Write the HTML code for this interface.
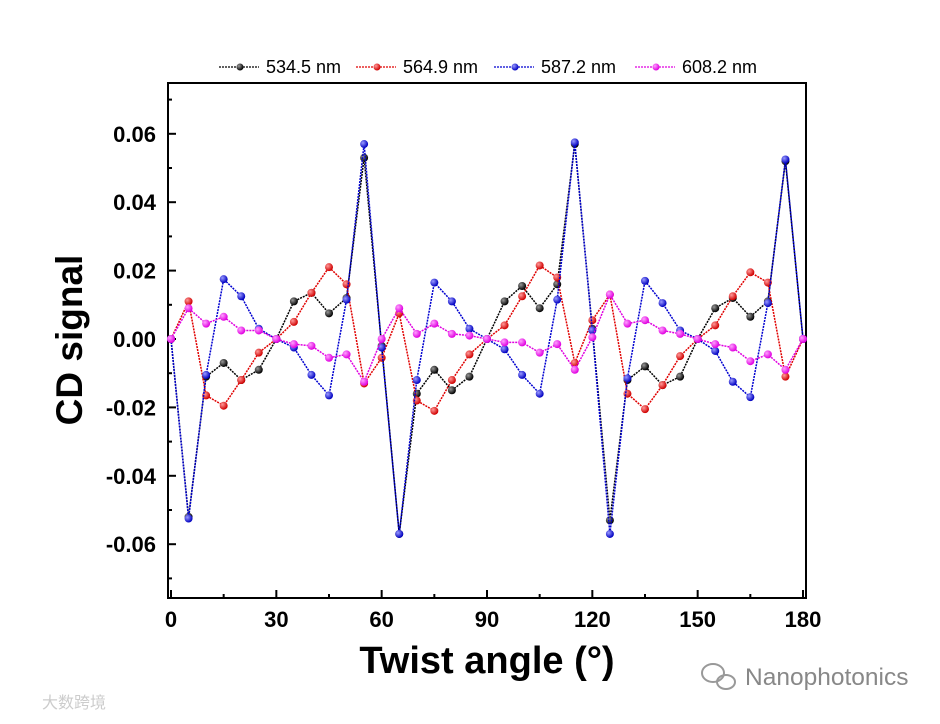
<!DOCTYPE html>
<html><head><meta charset="utf-8"><style>
body{margin:0;background:#fff;width:940px;height:719px;overflow:hidden;font-family:"Liberation Sans","Noto Sans CJK SC",sans-serif}
</style></head><body>
<svg id="chart" width="940" height="719" xmlns="http://www.w3.org/2000/svg" font-family="Liberation Sans, sans-serif">
<defs>
<radialGradient id="g0" cx="35%" cy="35%" r="65%"><stop offset="0" stop-color="#999"/><stop offset="1" stop-color="#000"/></radialGradient>
<radialGradient id="g1" cx="35%" cy="35%" r="65%"><stop offset="0" stop-color="#ff9a9a"/><stop offset="1" stop-color="#d00000"/></radialGradient>
<radialGradient id="g2" cx="35%" cy="35%" r="65%"><stop offset="0" stop-color="#9a9aff"/><stop offset="1" stop-color="#0000c0"/></radialGradient>
<radialGradient id="g3" cx="35%" cy="35%" r="65%"><stop offset="0" stop-color="#ffa0ff"/><stop offset="1" stop-color="#e000e0"/></radialGradient>
</defs>
<g id="axes"></g>
<g id="series"></g>
<g id="legend"></g>
<text transform="translate(82,340) rotate(-90)" text-anchor="middle" font-size="37" font-weight="bold">CD signal</text>
<text x="487" y="673" text-anchor="middle" font-size="38" font-weight="bold">Twist angle (°)</text>
<g fill="none" stroke="#999" stroke-width="2">
<ellipse cx="713" cy="673" rx="11" ry="9"/><ellipse cx="726" cy="682" rx="9" ry="7"/>
</g>
<text x="745" y="685" font-size="24.5" fill="#888">Nanophotonics</text>
<text x="42" y="708" font-size="16" fill="#ccc" font-family="Liberation Sans, Noto Sans CJK SC, sans-serif">大数跨境</text>
</svg>
<script>
const angles=[0,5,10,15,20,25,30,35,40,45,50,55,60,65,70,75,80,85,90,95,100,105,110,115,120,125,130,135,140,145,150,155,160,165,170,175,180];
const s534=[0,-0.052,-0.011,-0.007,-0.012,-0.009,0,0.011,0.0135,0.0075,0.012,0.053,-0.002,-0.057,-0.016,-0.009,-0.015,-0.011,0,0.011,0.0155,0.009,0.016,0.057,0.003,-0.053,-0.012,-0.008,-0.0135,-0.011,0,0.009,0.012,0.0065,0.011,0.052,0];
const s564=[0,0.011,-0.0165,-0.0195,-0.012,-0.004,0,0.005,0.0135,0.021,0.016,-0.013,-0.0055,0.0075,-0.018,-0.021,-0.012,-0.0045,0,0.004,0.0125,0.0215,0.018,-0.007,0.0055,0.013,-0.016,-0.0205,-0.0135,-0.005,0,0.004,0.0125,0.0195,0.0165,-0.011,0];
const s587=[0,-0.0525,-0.0105,0.0175,0.0125,0.003,0,-0.0025,-0.0105,-0.0165,0.0115,0.057,-0.0025,-0.057,-0.012,0.0165,0.011,0.003,0,-0.003,-0.0105,-0.016,0.0115,0.0575,0.0025,-0.057,-0.0115,0.017,0.0105,0.0025,0,-0.0035,-0.0125,-0.017,0.0105,0.0525,0];
const s608=[0,0.009,0.0045,0.0065,0.0025,0.0025,0,-0.0015,-0.002,-0.0055,-0.0045,-0.0125,0,0.009,0.0015,0.0045,0.0015,0.001,0,-0.001,-0.001,-0.004,-0.0015,-0.009,0.0005,0.013,0.0045,0.0055,0.0025,0.0015,0,-0.0015,-0.0025,-0.0065,-0.0045,-0.009,0];
const seriesNames=["534.5 nm","564.9 nm","587.2 nm","608.2 nm"];
const xTicks=[0,30,60,90,120,150,180];
const yTicks=[-0.06,-0.04,-0.02,0.00,0.02,0.04,0.06];
const yTickLabels=["-0.06","-0.04","-0.02","0.00","0.02","0.04","0.06"];

const NS="http://www.w3.org/2000/svg";
const L=168,R=806,T=83,B=598;
const X=a=>171+(a/180)*(803-171);
const Y=v=>339-v*3420;
function mk(tag,attrs,parent){const e=document.createElementNS(NS,tag);for(const k in attrs)e.setAttribute(k,attrs[k]);parent.appendChild(e);return e;}
const axes=document.getElementById('axes');
const frame=mk('rect',{x:L,y:T,width:R-L,height:B-T,fill:'none',stroke:'#000','stroke-width':2},axes);


xTicks.forEach(t=>{
  mk('line',{x1:X(t),x2:X(t),y1:B,y2:B-8,stroke:'#000','stroke-width':2},axes);
  const tx=mk('text',{x:X(t),y:B+29,'text-anchor':'middle','font-size':22,'font-weight':'bold'},axes);
  tx.textContent=t;
  
  
});
for(let t=15;t<180;t+=30){mk('line',{x1:X(t),x2:X(t),y1:B,y2:B-4,stroke:'#000','stroke-width':2},axes);}
yTicks.forEach((t,i)=>{
  mk('line',{x1:L,x2:L+8,y1:Y(t),y2:Y(t),stroke:'#000','stroke-width':2},axes);
  const tx=mk('text',{x:L-12,y:Y(t)+8,'text-anchor':'end','font-size':22,'font-weight':'bold'},axes);
  tx.textContent=yTickLabels[i];
  
  
});
for(let t=-0.07;t<=0.071;t+=0.02){mk('line',{x1:L,x2:L+4,y1:Y(t),y2:Y(t),stroke:'#000','stroke-width':2},axes);}
const cols=['#000','#e00000','#0000d0','#e000e0'];
const data=[s534,s564,s587,s608];
const sg=document.getElementById('series');
data.forEach((d,si)=>{
  const g=mk('g',{},sg);
  
  
  const pts=d.map((v,i)=>X(angles[i])+','+Y(v)).join(' ');
  mk('polyline',{points:pts,fill:'none',stroke:cols[si],'stroke-width':1.5,'stroke-dasharray':'2,1'},g);
  d.forEach((v,i)=>{
    const c=mk('circle',{cx:X(angles[i]),cy:Y(v),r:4,fill:'url(#g'+si+')'},g);
    
    
  });
});
const lg=document.getElementById('legend');
const lx=[219,356,494,635];
seriesNames.forEach((n,i)=>{
  const g=mk('g',{},lg);
  
  
  mk('line',{x1:lx[i],x2:lx[i]+40,y1:67,y2:67,stroke:cols[i],'stroke-width':1.3,'stroke-dasharray':'2,1'},g);
  mk('circle',{cx:lx[i]+21,cy:67,r:3.5,fill:'url(#g'+i+')'},g);
  const t=mk('text',{x:lx[i]+47,y:73,'font-size':18},g);
  t.textContent=n;
});
</script>
</body></html>
